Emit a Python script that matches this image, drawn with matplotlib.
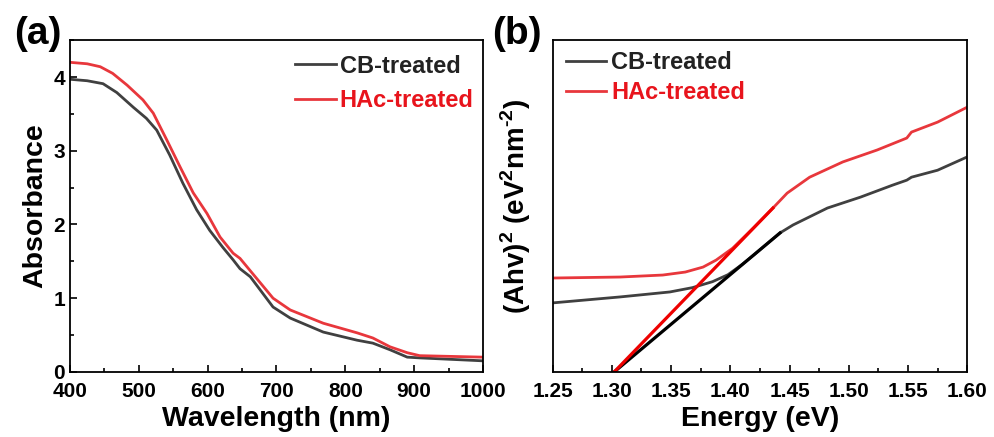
import matplotlib
matplotlib.use('Agg')
import matplotlib.pyplot as plt
from matplotlib.ticker import MultipleLocator

plt.rcParams['font.family'] = ['Liberation Sans', 'DejaVu Sans']
plt.rcParams['font.weight'] = 'bold'
plt.rcParams['mathtext.fontset'] = 'custom'
plt.rcParams['mathtext.rm'] = 'Liberation Sans:bold'
plt.rcParams['mathtext.bf'] = 'Liberation Sans:bold'

# (a) absorbance spectra
wl_cb = [400, 425, 448, 468, 492, 511, 526, 545, 564, 584, 603, 622, 637, 647, 662,
         695, 720, 768, 817, 840, 865, 890, 908, 1000]
abs_cb = [3.97, 3.95, 3.91, 3.79, 3.59, 3.44, 3.28, 2.94, 2.56, 2.20, 1.92, 1.69,
          1.52, 1.40, 1.29, 0.88, 0.73, 0.54, 0.43, 0.39, 0.30, 0.20, 0.19, 0.15]
wl_hac = [400, 425, 444, 462, 483, 506, 521, 541, 560, 579, 599, 618, 637, 647, 671,
          695, 720, 768, 817, 840, 865, 890, 908, 1000]
abs_hac = [4.20, 4.18, 4.14, 4.05, 3.89, 3.69, 3.51, 3.14, 2.78, 2.43, 2.15, 1.83,
           1.61, 1.54, 1.27, 1.00, 0.84, 0.66, 0.53, 0.46, 0.34, 0.26, 0.22, 0.20]

# (b) Tauc plot (arbitrary units)
e_hac = [1.25, 1.307, 1.343, 1.362, 1.377, 1.388, 1.402, 1.42, 1.436, 1.448,
         1.467, 1.495, 1.524, 1.549, 1.553, 1.575, 1.60]
tauc_hac = [2.83, 2.86, 2.92, 3.01, 3.16, 3.37, 3.73, 4.36, 4.94, 5.39, 5.87,
            6.33, 6.69, 7.05, 7.23, 7.53, 7.98]
e_cb = [1.25, 1.307, 1.349, 1.368, 1.385, 1.398, 1.41, 1.42, 1.442, 1.453, 1.482,
        1.510, 1.537, 1.549, 1.553, 1.575, 1.60]
tauc_cb = [2.08, 2.26, 2.41, 2.54, 2.72, 2.93, 3.24, 3.53, 4.19, 4.43, 4.94, 5.27,
           5.63, 5.78, 5.87, 6.08, 6.48]
fit_hac_x = [1.302, 1.436]
fit_hac_y = [0.0, 4.94]
fit_cb_x = [1.302, 1.442]
fit_cb_y = [0.0, 4.19]

c_cb = '#404040'
c_hac = '#e8373c'

fig = plt.figure(figsize=(9.94, 4.37), dpi=100)
ax1 = fig.add_axes([0.0704, 0.149, 0.4155, 0.759])
ax2 = fig.add_axes([0.556, 0.149, 0.417, 0.759])

ax1.plot(wl_cb, abs_cb, color=c_cb, lw=2.0, label='CB-treated')
ax1.plot(wl_hac, abs_hac, color=c_hac, lw=2.0, label='HAc-treated')
ax1.set_xlim(400, 1000)
ax1.set_ylim(0, 4.5)
ax1.xaxis.set_major_locator(MultipleLocator(100))
ax1.xaxis.set_minor_locator(MultipleLocator(50))
ax1.yaxis.set_major_locator(MultipleLocator(1))
ax1.yaxis.set_minor_locator(MultipleLocator(0.5))
ax1.set_xlabel('Wavelength (nm)', fontsize=20.5, fontweight='bold', labelpad=4)
ax1.set_ylabel('Absorbance', fontsize=20.5, fontweight='bold', labelpad=4)

ax2.plot(e_cb, tauc_cb, color=c_cb, lw=2.0, label='CB-treated')
ax2.plot(e_hac, tauc_hac, color=c_hac, lw=2.0, label='HAc-treated')
ax2.plot(fit_cb_x, fit_cb_y, color='black', lw=2.3)
ax2.plot(fit_hac_x, fit_hac_y, color='#ee0000', lw=2.3)
ax2.set_xlim(1.25, 1.60)
ax2.set_ylim(0, 10)
ax2.xaxis.set_major_locator(MultipleLocator(0.05))
ax2.xaxis.set_minor_locator(MultipleLocator(0.025))
ax2.set_yticks([])
ax2.set_xlabel('Energy (eV)', fontsize=20.5, fontweight='bold', labelpad=4)
ax2.set_ylabel('(Ahv)$^{2}$ (eV$^{2}$nm$^{\u20102}$)', fontsize=20,
               fontweight='bold', labelpad=14)

for ax in (ax1, ax2):
    for s in ax.spines.values():
        s.set_linewidth(1.3)
    ax.tick_params(which='both', direction='in', labelsize=15, width=1.2)
    ax.tick_params(which='major', length=5)
    ax.tick_params(axis='x', which='major', pad=7)
    ax.tick_params(which='minor', length=3)
    for lab in ax.get_xticklabels() + ax.get_yticklabels():
        lab.set_fontweight('bold')

leg1 = ax1.legend(loc='upper right', frameon=False, fontsize=17,
                  handlelength=1.75, handletextpad=0.15, labelspacing=0.5,
                  borderaxespad=0.0, bbox_to_anchor=(1.0, 0.985))
leg2 = ax2.legend(loc='upper left', frameon=False, fontsize=17,
                  handlelength=1.7, handletextpad=0.2, labelspacing=0.3,
                  borderaxespad=0.0, bbox_to_anchor=(0.01, 0.995))
for leg in (leg1, leg2):
    for t, c in zip(leg.get_texts(), ['#222222', '#e8141c']):
        t.set_color(c)
        t.set_fontweight('bold')

fig.text(0.038, 0.922, '(a)', fontsize=28, fontweight='bold', ha='center', va='center')
fig.text(0.520, 0.922, '(b)', fontsize=28, fontweight='bold', ha='center', va='center')

fig.savefig('out.png', dpi=100)
